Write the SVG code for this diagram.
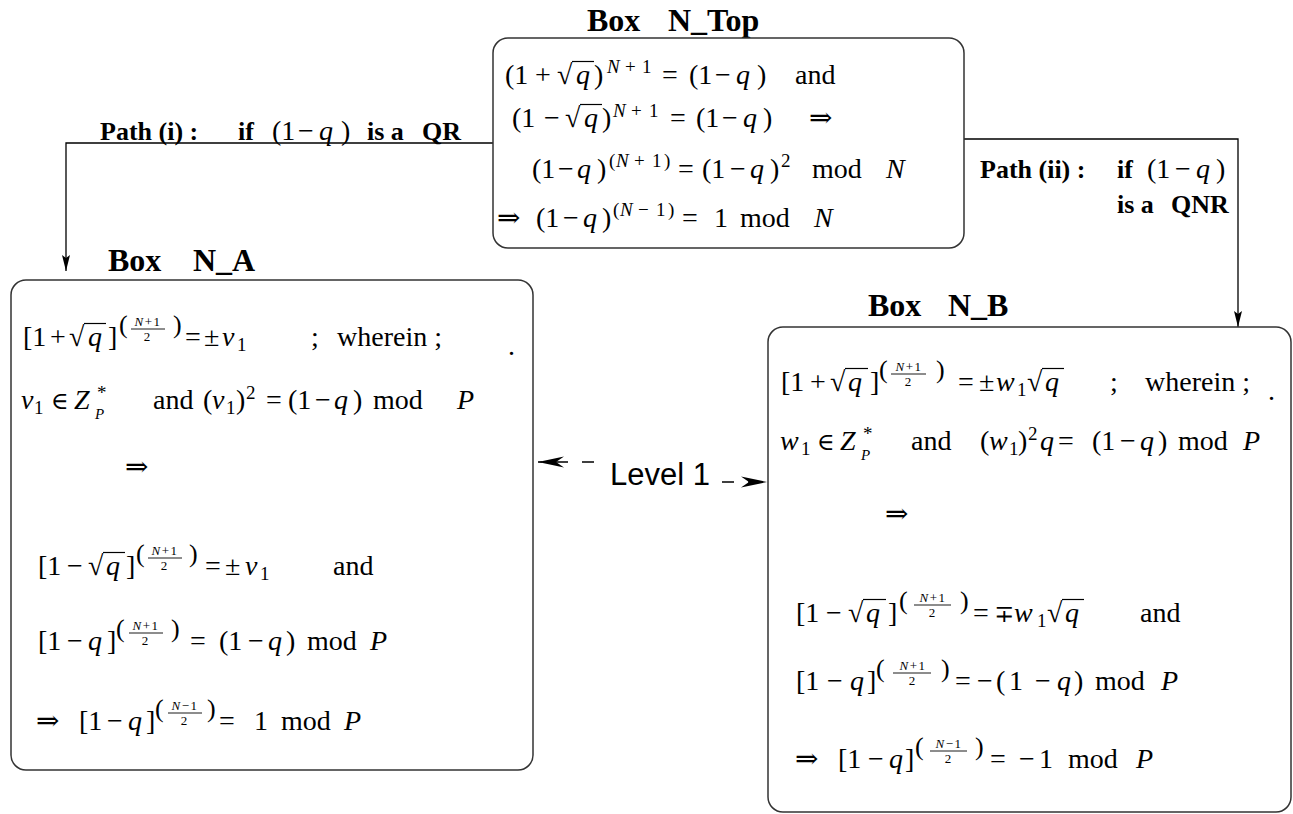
<svg xmlns="http://www.w3.org/2000/svg" width="1293" height="814" viewBox="0 0 1293 814">
<style>
text{font-family:"Liberation Serif",serif;fill:#000}
.m{font-size:28px}
.i{font-style:italic}
.sy{font-family:"DejaVu Serif","DejaVu Sans",serif;font-size:28px}
.sy2{font-family:"DejaVu Serif","DejaVu Sans",serif;font-size:24px}
.sp{font-size:19px}
.sb{font-size:15px}
.fr{font-size:13px;letter-spacing:1.5px}
.fd{font-size:13px}
.fp{font-size:26px}
.bt{font-size:32px;font-weight:bold}
.bl{font-size:26px;font-weight:bold}
.lv{font-family:"Liberation Sans",Arial,sans-serif;font-size:31px}
.box{fill:none;stroke:#333;stroke-width:1.5}
.ov{stroke:#000;stroke-width:1.2}
.bar{stroke:#000;stroke-width:0.9}
.con{fill:none;stroke:#000;stroke-width:1.3}
.dash{stroke-dasharray:12 14}
</style>
<defs>
<marker id="ah" markerWidth="16" markerHeight="10" refX="16" refY="5" orient="auto" markerUnits="userSpaceOnUse"><path d="M0,1 L16,5 L0,9 L3,5 z" fill="#000"/></marker>
<marker id="ah2" markerWidth="26" markerHeight="12" refX="26" refY="6" orient="auto" markerUnits="userSpaceOnUse"><path d="M0,0.5 L26,6 L0,11.5 L8,6 z" fill="#000"/></marker>
</defs>

<g id="connectors">
<path class="con" d="M493,143 H66 V271" marker-end="url(#ah)"/>
<path class="con" d="M964,139 H1238 V327" marker-end="url(#ah)"/>
<path class="con dash" d="M594,462 H538" marker-end="url(#ah2)"/>
<path class="con dash" d="M722,482 H767" marker-end="url(#ah2)"/>
<g id="label-path-i">
<text class="bl" y="140"><tspan x="100">Path (i) :</tspan><tspan x="238">if</tspan><tspan x="367">is a</tspan><tspan x="422">QR</tspan></text>
<text class="m" y="140"><tspan x="272">(1</tspan><tspan x="298">−</tspan><tspan x="319" class="i">q</tspan><tspan x="341">)</tspan></text>
</g>
<g id="label-path-ii">
<text class="bl" y="178"><tspan x="980">Path (ii) :</tspan><tspan x="1117">if</tspan></text>
<text class="m" y="178"><tspan x="1147">(1</tspan><tspan x="1175">−</tspan><tspan x="1196" class="i">q</tspan><tspan x="1216">)</tspan></text>
<text class="bl" y="213"><tspan x="1117">is a</tspan><tspan x="1171">QNR</tspan></text>
</g>
<text id="label-level" class="lv" x="610" y="485">Level 1</text>
</g>

<g id="N_Top">
<text class="bt" y="31"><tspan x="587">Box</tspan><tspan x="668">N_Top</tspan></text>
<rect class="box" x="493" y="38" width="471" height="210" rx="15"/>
<text class="m" y="84"><tspan x="505">(1</tspan><tspan x="535">+</tspan><tspan x="557">√</tspan><tspan x="576" class="i">q</tspan><tspan x="594">)</tspan><tspan x="662">=</tspan><tspan x="689">(1</tspan><tspan x="715">−</tspan><tspan x="736" class="i">q</tspan><tspan x="757">)</tspan><tspan x="795">and</tspan></text>
<text class="sp" y="73"><tspan x="607" class="i">N</tspan><tspan x="625">+</tspan><tspan x="642">1</tspan></text>
<line class="ov" x1="572" y1="61.5" x2="594" y2="61.5"/>
<text class="m" y="127"><tspan x="512">(1</tspan><tspan x="544">−</tspan><tspan x="565">√</tspan><tspan x="584" class="i">q</tspan><tspan x="602">)</tspan><tspan x="670">=</tspan><tspan x="696">(1</tspan><tspan x="722">−</tspan><tspan x="743" class="i">q</tspan><tspan x="763">)</tspan></text>
<text class="sy" x="809" y="127">⇒</text>
<text class="sp" y="117"><tspan x="613" class="i">N</tspan><tspan x="631">+</tspan><tspan x="649">1</tspan></text>
<line class="ov" x1="580" y1="104.5" x2="602" y2="104.5"/>
<text class="m" y="178"><tspan x="532">(1</tspan><tspan x="558">−</tspan><tspan x="577" class="i">q</tspan><tspan x="597">)</tspan><tspan x="678">=</tspan><tspan x="702">(1</tspan><tspan x="730">−</tspan><tspan x="750" class="i">q</tspan><tspan x="770">)</tspan><tspan x="812">mod</tspan><tspan x="886" class="i">N</tspan></text>
<text class="sp" y="167"><tspan x="609">(</tspan><tspan x="616" class="i">N</tspan><tspan x="634">+</tspan><tspan x="652">1</tspan><tspan x="664">)</tspan><tspan x="781">2</tspan></text>
<text class="sy" x="497" y="227">⇒</text>
<text class="m" y="227"><tspan x="536">(1</tspan><tspan x="563">−</tspan><tspan x="583" class="i">q</tspan><tspan x="602">)</tspan><tspan x="682">=</tspan><tspan x="714">1</tspan><tspan x="740">mod</tspan><tspan x="814" class="i">N</tspan></text>
<text class="sp" y="216"><tspan x="613">(</tspan><tspan x="620" class="i">N</tspan><tspan x="638">−</tspan><tspan x="656">1</tspan><tspan x="668">)</tspan></text>
</g>

<g id="N_A">
<text class="bt" y="271"><tspan x="108">Box</tspan><tspan x="193">N_A</tspan></text>
<rect class="box" x="11" y="280" width="522" height="490" rx="15"/>
<!-- L1 -->
<text class="m" y="346"><tspan x="23">[1</tspan><tspan x="50">+</tspan><tspan x="69">√</tspan><tspan x="88" class="i">q</tspan><tspan x="108">]</tspan><tspan x="185">=</tspan><tspan x="204">±</tspan><tspan x="222" class="i">v</tspan><tspan x="311">;</tspan><tspan x="337">wherein ;</tspan></text>
<text class="sp" x="237" y="351">1</text>
<line class="ov" x1="84" y1="323.5" x2="106" y2="323.5"/>
<text class="fp" y="333"><tspan x="119">(</tspan><tspan x="173">)</tspan></text>
<text class="fr" text-anchor="middle" x="148" y="326"><tspan class="i">N</tspan>+1</text>
<line class="bar" x1="131" y1="329" x2="165" y2="329"/>
<text class="fd" text-anchor="middle" x="147" y="340.5">2</text>
<text class="m" x="508" y="355">.</text>
<!-- L2 -->
<text class="m" y="409"><tspan x="21" class="i">v</tspan><tspan x="74" class="i">Z</tspan><tspan x="153">and</tspan><tspan x="203">(</tspan><tspan x="212" class="i">v</tspan><tspan x="236">)</tspan><tspan x="266">=</tspan><tspan x="288">(1</tspan><tspan x="315">−</tspan><tspan x="334" class="i">q</tspan><tspan x="353">)</tspan><tspan x="373">mod</tspan><tspan x="457" class="i">P</tspan></text>
<text class="sy2" x="51" y="409">∈</text>
<text class="sp" y="414"><tspan x="34">1</tspan><tspan x="226">1</tspan></text>
<text class="sp" y="399"><tspan x="97">*</tspan><tspan x="246">2</tspan></text>
<text class="sb i" x="95" y="419">P</text>
<!-- L3 -->
<text class="sy" x="125" y="476">⇒</text>
<!-- L4 -->
<text class="m" y="575"><tspan x="38">[1</tspan><tspan x="67">−</tspan><tspan x="88">√</tspan><tspan x="106" class="i">q</tspan><tspan x="126">]</tspan><tspan x="205">=</tspan><tspan x="225">±</tspan><tspan x="245" class="i">v</tspan><tspan x="333">and</tspan></text>
<text class="sp" x="260" y="580">1</text>
<line class="ov" x1="103" y1="552.5" x2="125" y2="552.5"/>
<text class="fp" y="562"><tspan x="136">(</tspan><tspan x="189">)</tspan></text>
<text class="fr" text-anchor="middle" x="165" y="555"><tspan class="i">N</tspan>+1</text>
<line class="bar" x1="148" y1="558" x2="182" y2="558"/>
<text class="fd" text-anchor="middle" x="164" y="569.5">2</text>
<!-- L5 -->
<text class="m" y="650"><tspan x="38">[1</tspan><tspan x="67">−</tspan><tspan x="88" class="i">q</tspan><tspan x="107">]</tspan><tspan x="190">=</tspan><tspan x="219">(1</tspan><tspan x="248">−</tspan><tspan x="268" class="i">q</tspan><tspan x="286">)</tspan><tspan x="307">mod</tspan><tspan x="370" class="i">P</tspan></text>
<text class="fp" y="637"><tspan x="116">(</tspan><tspan x="171">)</tspan></text>
<text class="fr" text-anchor="middle" x="146" y="630"><tspan class="i">N</tspan>+1</text>
<line class="bar" x1="129" y1="633" x2="163" y2="633"/>
<text class="fd" text-anchor="middle" x="145" y="644.5">2</text>
<!-- L6 -->
<text class="sy" x="36" y="730">⇒</text>
<text class="m" y="730"><tspan x="79">[1</tspan><tspan x="107">−</tspan><tspan x="128" class="i">q</tspan><tspan x="146">]</tspan><tspan x="219">=</tspan><tspan x="254">1</tspan><tspan x="281">mod</tspan><tspan x="344" class="i">P</tspan></text>
<text class="fp" y="717"><tspan x="155">(</tspan><tspan x="207">)</tspan></text>
<text class="fr" text-anchor="middle" x="185" y="710"><tspan class="i">N</tspan>−1</text>
<line class="bar" x1="168" y1="713" x2="202" y2="713"/>
<text class="fd" text-anchor="middle" x="184" y="724.5">2</text>
</g>

<g id="N_B">
<text class="bt" y="316"><tspan x="868">Box</tspan><tspan x="948">N_B</tspan></text>
<rect class="box" x="768" y="327" width="523" height="485" rx="15"/>
<!-- L1 -->
<text class="m" y="391"><tspan x="781">[1</tspan><tspan x="810">+</tspan><tspan x="830">√</tspan><tspan x="848" class="i">q</tspan><tspan x="870">]</tspan><tspan x="958">=</tspan><tspan x="979">±</tspan><tspan x="996" class="i">w</tspan><tspan x="1027">√</tspan><tspan x="1045" class="i">q</tspan><tspan x="1110">;</tspan><tspan x="1145">wherein ;</tspan></text>
<text class="sp" x="1017" y="396">1</text>
<line class="ov" x1="845" y1="368.5" x2="868" y2="368.5"/>
<line class="ov" x1="1042" y1="368.5" x2="1064" y2="368.5"/>
<text class="fp" y="378"><tspan x="879">(</tspan><tspan x="936">)</tspan></text>
<text class="fr" text-anchor="middle" x="909" y="371"><tspan class="i">N</tspan>+1</text>
<line class="bar" x1="891" y1="374" x2="926" y2="374"/>
<text class="fd" text-anchor="middle" x="908" y="385.5">2</text>
<text class="m" x="1268" y="400">.</text>
<!-- L2 -->
<text class="m" y="450"><tspan x="780" class="i">w</tspan><tspan x="840" class="i">Z</tspan><tspan x="911">and</tspan><tspan x="980">(</tspan><tspan x="989" class="i">w</tspan><tspan x="1018">)</tspan><tspan x="1040" class="i">q</tspan><tspan x="1058">=</tspan><tspan x="1092">(1</tspan><tspan x="1120">−</tspan><tspan x="1140" class="i">q</tspan><tspan x="1158">)</tspan><tspan x="1178">mod</tspan><tspan x="1243" class="i">P</tspan></text>
<text class="sy2" x="817" y="450">∈</text>
<text class="sp" y="455"><tspan x="801">1</tspan><tspan x="1009">1</tspan></text>
<text class="sp" y="440"><tspan x="863">*</tspan><tspan x="1028">2</tspan></text>
<text class="sb i" x="861" y="460">P</text>
<!-- L3 -->
<text class="sy" x="885" y="523">⇒</text>
<!-- L4 -->
<text class="m" y="622"><tspan x="796">[1</tspan><tspan x="826">−</tspan><tspan x="848">√</tspan><tspan x="866" class="i">q</tspan><tspan x="888">]</tspan><tspan x="973">=</tspan><tspan x="1014" class="i">w</tspan><tspan x="1047">√</tspan><tspan x="1065" class="i">q</tspan><tspan x="1140">and</tspan></text>
<text class="sy2" x="994" y="622">∓</text>
<text class="sp" x="1037" y="627">1</text>
<line class="ov" x1="863" y1="599.5" x2="886" y2="599.5"/>
<line class="ov" x1="1062" y1="599.5" x2="1084" y2="599.5"/>
<text class="fp" y="609"><tspan x="899">(</tspan><tspan x="960">)</tspan></text>
<text class="fr" text-anchor="middle" x="933" y="602"><tspan class="i">N</tspan>+1</text>
<line class="bar" x1="914" y1="605" x2="951" y2="605"/>
<text class="fd" text-anchor="middle" x="932" y="616.5">2</text>
<!-- L5 -->
<text class="m" y="690"><tspan x="796">[1</tspan><tspan x="827">−</tspan><tspan x="850" class="i">q</tspan><tspan x="867">]</tspan><tspan x="955">=</tspan><tspan x="977">−</tspan><tspan x="996">(</tspan><tspan x="1009">1</tspan><tspan x="1035">−</tspan><tspan x="1057" class="i">q</tspan><tspan x="1074">)</tspan><tspan x="1095">mod</tspan><tspan x="1161" class="i">P</tspan></text>
<text class="fp" y="677"><tspan x="876">(</tspan><tspan x="941">)</tspan></text>
<text class="fr" text-anchor="middle" x="913" y="670"><tspan class="i">N</tspan>+1</text>
<line class="bar" x1="893" y1="673" x2="931" y2="673"/>
<text class="fd" text-anchor="middle" x="912" y="684.5">2</text>
<!-- L6 -->
<text class="sy" x="795" y="768">⇒</text>
<text class="m" y="768"><tspan x="838">[1</tspan><tspan x="868">−</tspan><tspan x="889" class="i">q</tspan><tspan x="905">]</tspan><tspan x="990">=</tspan><tspan x="1019">−</tspan><tspan x="1039">1</tspan><tspan x="1068">mod</tspan><tspan x="1136" class="i">P</tspan></text>
<text class="fp" y="755"><tspan x="915">(</tspan><tspan x="975">)</tspan></text>
<text class="fr" text-anchor="middle" x="949" y="748"><tspan class="i">N</tspan>−1</text>
<line class="bar" x1="930" y1="751" x2="967" y2="751"/>
<text class="fd" text-anchor="middle" x="948" y="762.5">2</text>
</g>
</svg>
